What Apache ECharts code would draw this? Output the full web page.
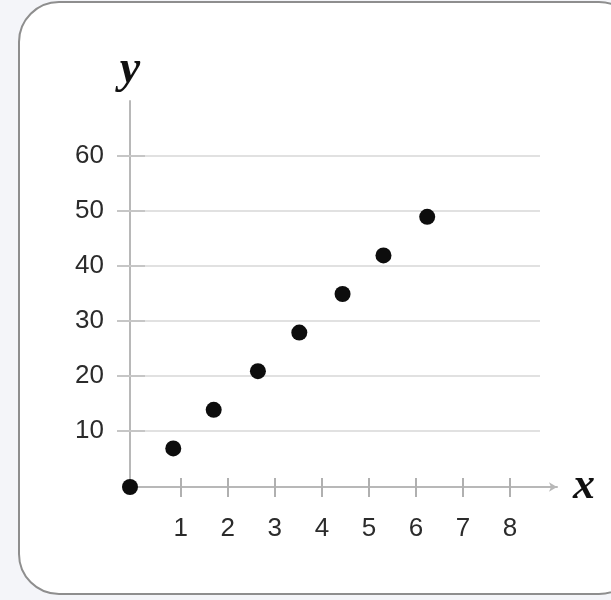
<!DOCTYPE html>
<html>
<head>
<meta charset="utf-8">
<script src="https://cdn.jsdelivr.net/npm/echarts@6/dist/echarts.min.js"></script>
<style>
  html, body { margin: 0; padding: 0; background: #f4f5f9; }
  #chart { width: 611px; height: 600px; }
</style>
</head>
<body>
<div id="chart"></div>
<script>
// ---- data ----
const xValues = [-0.08, 0.84, 1.70, 2.64, 3.52, 4.44, 5.31, 6.24];
const yValues = [0, 7, 14, 21, 28, 35, 42, 49];
const xTicks = [1, 2, 3, 4, 5, 6, 7, 8];
const yTicks = [10, 20, 30, 40, 50, 60];
const xName = 'x';
const yName = 'y';

const points = xValues.map((x, i) => [x, yValues[i]]);

const chart = echarts.init(document.getElementById('chart'), null, { renderer: 'canvas' });

const labelFont = { fontFamily: 'Liberation Sans', fontSize: 26, color: '#2b2b2b' };
const nameFont = { fontFamily: 'Liberation Serif', fontStyle: 'italic', fontWeight: 'bold', fontSize: 46, color: '#111' };

chart.setOption({
  animation: false,
  backgroundColor: 'transparent',
  graphic: [{
    type: 'rect',
    z: -10,
    silent: true,
    shape: { x: 19, y: 2, width: 620, height: 592, r: 40 },
    style: { fill: '#ffffff', stroke: '#8e8e8e', lineWidth: 2 }
  }],
  grid: [
    { left: 130, top: 101, width: 427, height: 386 },
    { left: 117, top: 156, width: 423, height: 275 }
  ],
  xAxis: [
    {
      gridIndex: 0, type: 'value', position: 'bottom', min: -0.08, max: 9,
      name: xName, nameLocation: 'end', nameGap: 16,
      nameTextStyle: Object.assign({}, nameFont, { fontSize: 44, align: 'left', verticalAlign: 'middle', padding: [0, 0, 10, 0] }),
      axisLine: { show: true, onZero: false, symbol: ['none', 'arrow'], symbolSize: [7, 8],
                  lineStyle: { color: '#b8b8b8', width: 2 } },
      axisTick: { show: true, inside: false, length: 10, customValues: xTicks,
                  lineStyle: { color: '#b0b0b0', width: 2 } },
      axisLabel: Object.assign({ show: true, margin: 29, customValues: xTicks }, labelFont),
      splitLine: { show: false }
    },
    {
      gridIndex: 0, type: 'value', position: 'bottom', min: -0.08, max: 9,
      axisLine: { show: false },
      axisTick: { show: true, inside: true, length: 9, customValues: xTicks,
                  lineStyle: { color: '#b0b0b0', width: 2 } },
      axisLabel: { show: false },
      splitLine: { show: false }
    },
    {
      gridIndex: 1, type: 'value', min: 0, max: 1, show: false
    }
  ],
  yAxis: [
    {
      gridIndex: 0, type: 'value', position: 'left', min: 0, max: 70,
      name: yName, nameLocation: 'end', nameGap: 8,
      nameTextStyle: Object.assign({}, nameFont, { align: 'center' }),
      axisLine: { show: true, onZero: false, lineStyle: { color: '#b8b8b8', width: 2 } },
      axisTick: { show: false },
      axisLabel: { show: false },
      splitLine: { show: false }
    },
    {
      gridIndex: 1, type: 'value', position: 'left', min: 10, max: 60, interval: 10,
      axisLine: { show: false },
      axisTick: { show: true, inside: true, length: 28, lineStyle: { color: '#c6c6c6', width: 2 } },
      axisLabel: Object.assign({ show: true, margin: 13 }, labelFont),
      splitLine: { show: true, lineStyle: { color: '#e1e1e1', width: 2 } }
    }
  ],
  series: [{
    type: 'scatter',
    xAxisIndex: 0, yAxisIndex: 0,
    data: points,
    symbol: 'circle',
    symbolSize: 16,
    itemStyle: { color: '#0d0d0d', opacity: 1 },
    z: 5
  }]
});
</script>
</body>
</html>
